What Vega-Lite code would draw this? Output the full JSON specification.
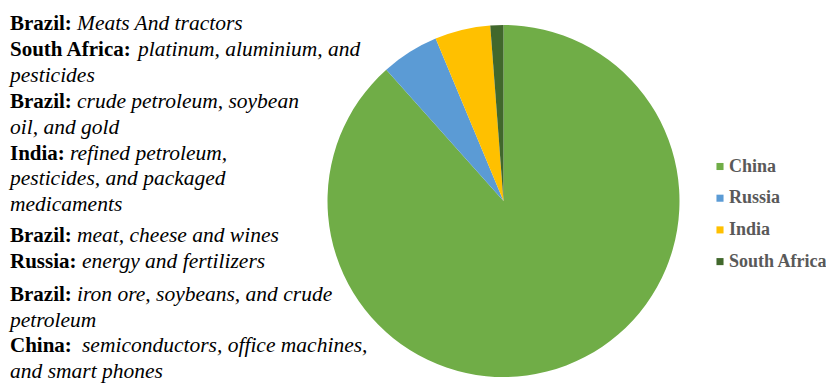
{
  "$schema": "https://vega.github.io/schema/vega-lite/v6.json",
  "padding": {"left": 0, "top": 13, "right": 0, "bottom": 0},
  "bounds": "flush",
  "background": "white",
  "config": {"view": {"stroke": null}, "concat": {"spacing": 0}},
  "datasets": {
    "notes": [
      {"line": 0, "label": "Brazil:", "items": "Meats And tractors"},
      {"line": 1, "label": "South Africa:", "items": "platinum, aluminium, and"},
      {"line": 2, "label": "", "items": "pesticides"},
      {"line": 3, "label": "Brazil:", "items": "crude petroleum, soybean"},
      {"line": 4, "label": "", "items": "oil, and gold"},
      {"line": 5, "label": "India:", "items": "refined petroleum,"},
      {"line": 6, "label": "", "items": "pesticides, and packaged"},
      {"line": 7, "label": "", "items": "medicaments"},
      {"line": 8.2, "label": "Brazil:", "items": "meat, cheese and wines"},
      {"line": 9.2, "label": "Russia:", "items": "energy and fertilizers"},
      {"line": 10.45, "label": "Brazil:", "items": "iron ore, soybeans, and crude"},
      {"line": 11.45, "label": "", "items": "petroleum"},
      {"line": 12.45, "label": "China:", "items": "semiconductors, office machines,"},
      {"line": 13.45, "label": "", "items": "and smart phones"}
    ],
    "shares": [
      {"country": "China", "share": 88.4, "rank": 1},
      {"country": "Russia", "share": 5.3, "rank": 2},
      {"country": "India", "share": 5.1, "rank": 3},
      {"country": "South Africa", "share": 1.2, "rank": 4}
    ]
  },
  "hconcat": [
    {
      "width": 330,
      "height": 370,
      "data": {"name": "notes"},
      "encoding": {
        "x": {"datum": 0, "type": "quantitative", "scale": {"domain": [-10, 320]}, "axis": null},
        "y": {"field": "line", "type": "quantitative", "scale": {"domain": [-0.309, 13.977], "reverse": true, "zero": false, "nice": false}, "axis": null},
        "text": {"field": "items"}
      },
      "layer": [
        {
          "transform": [{"filter": "datum.label != ''"}],
          "mark": {"type": "text", "align": "left", "baseline": "middle", "font": "Liberation Serif", "fontSize": 21, "fontWeight": "bold", "color": "#000000"},
          "encoding": {"text": {"field": "label"}}
        },
        {
          "transform": [{"filter": "datum.label == 'Brazil:'"}],
          "mark": {"type": "text", "align": "left", "baseline": "middle", "font": "Liberation Serif", "fontSize": 21.5, "fontStyle": "italic", "color": "#000000", "dx": 67}
        },
        {
          "transform": [{"filter": "datum.label == 'South Africa:'"}],
          "mark": {"type": "text", "align": "left", "baseline": "middle", "font": "Liberation Serif", "fontSize": 21.5, "fontStyle": "italic", "color": "#000000", "dx": 128}
        },
        {
          "transform": [{"filter": "datum.label == 'India:'"}],
          "mark": {"type": "text", "align": "left", "baseline": "middle", "font": "Liberation Serif", "fontSize": 21.5, "fontStyle": "italic", "color": "#000000", "dx": 60}
        },
        {
          "transform": [{"filter": "datum.label == 'Russia:' || datum.label == 'China:'"}],
          "mark": {"type": "text", "align": "left", "baseline": "middle", "font": "Liberation Serif", "fontSize": 21.5, "fontStyle": "italic", "color": "#000000", "dx": 72}
        },
        {
          "transform": [{"filter": "datum.label == ''"}],
          "mark": {"type": "text", "align": "left", "baseline": "middle", "font": "Liberation Serif", "fontSize": 21.5, "fontStyle": "italic", "color": "#000000"}
        }
      ]
    },
    {
      "width": 347,
      "height": 370,
      "data": {"name": "shares"},
      "mark": {"type": "arc", "outerRadius": 176},
      "encoding": {
        "theta": {"field": "share", "type": "quantitative", "stack": true},
        "order": {"field": "rank", "type": "quantitative"},
        "color": {
          "field": "country",
          "type": "nominal",
          "scale": {"domain": ["China", "Russia", "India", "South Africa"], "range": ["#70AD47", "#5B9BD5", "#FFC000", "#41682C"]},
          "legend": {
            "title": null,
            "orient": "none",
            "legendX": 711,
            "legendY": 141.5,
            "padding": 0,
            "symbolType": "square",
            "symbolSize": 50,
            "symbolStrokeWidth": 0,
            "labelFont": "Liberation Serif",
            "labelFontSize": 18,
            "labelFontWeight": "bold",
            "labelColor": "#595959",
            "labelOffset": 0,
            "rowPadding": 13.7
          }
        }
      }
    }
  ]
}
